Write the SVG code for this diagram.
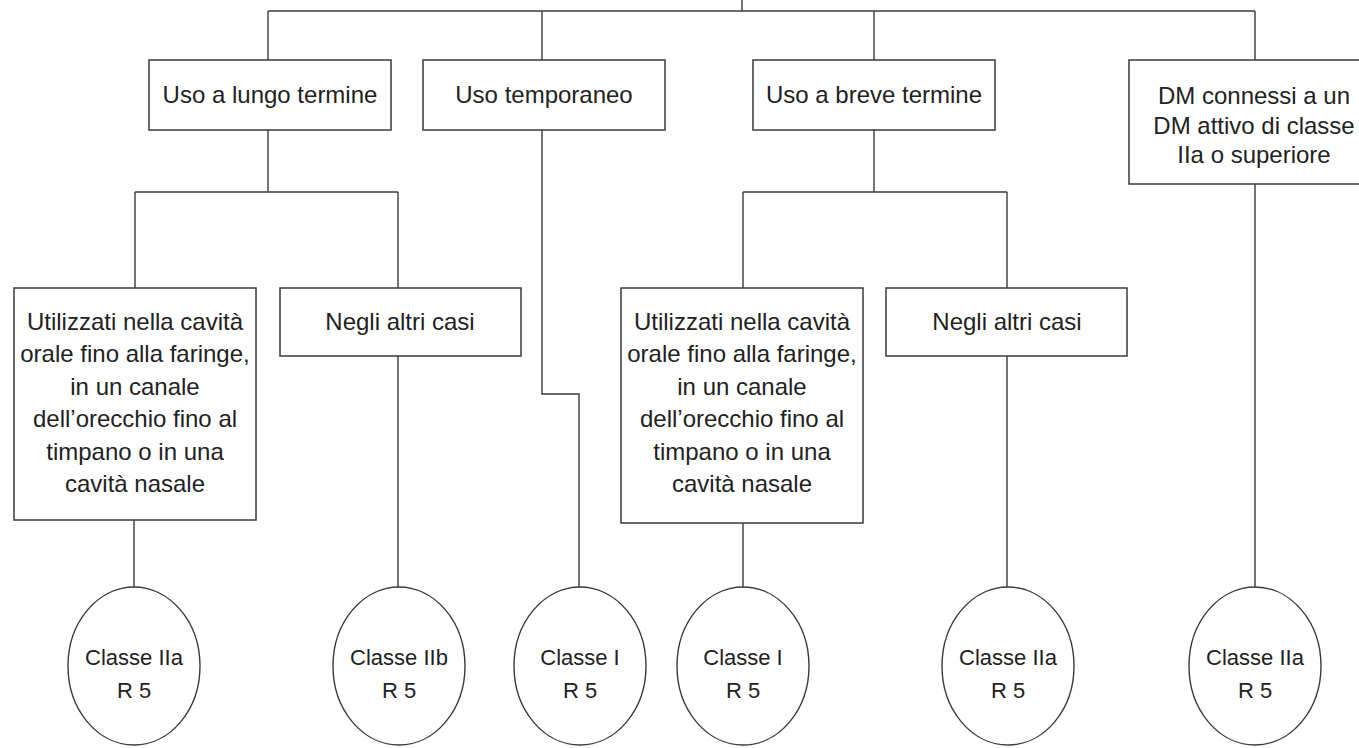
<svg xmlns="http://www.w3.org/2000/svg" width="1359" height="748" viewBox="0 0 1359 748">
  <style>
    .box { fill: #ffffff; stroke: #3a3a3a; stroke-width: 1.5; }
    .oval { fill: #ffffff; stroke: #3a3a3a; stroke-width: 1.4; }
    .wire { fill: none; stroke: #3a3a3a; stroke-width: 1.4; }
    .lbl { font-family: "Liberation Sans", Arial, sans-serif; font-size: 24px; fill: #222222; text-anchor: middle; }
    .cls { font-family: "Liberation Sans", Arial, sans-serif; font-size: 22px; fill: #222222; text-anchor: middle; }
  </style>
  <rect x="0" y="0" width="1359" height="748" fill="#ffffff"/>

  <!-- connectors -->
  <g id="connectors" class="wire">
    <path d="M742 0 V11"/>
    <path d="M268 11 H1255"/>
    <path d="M268 11 V60"/>
    <path d="M542 11 V60"/>
    <path d="M874 11 V60"/>
    <path d="M1255 11 V60"/>
    <!-- long-term branch -->
    <path d="M268 130 V192"/>
    <path d="M135 192 H398"/>
    <path d="M135 192 V288"/>
    <path d="M398 192 V288"/>
    <path d="M134 520 V587"/>
    <path d="M398 356 V587"/>
    <!-- temporary use -->
    <path d="M542 130 V394 H579 V587"/>
    <!-- short-term branch -->
    <path d="M874 130 V192"/>
    <path d="M743 192 H1007"/>
    <path d="M743 192 V288"/>
    <path d="M1007 192 V288"/>
    <path d="M743 523 V587"/>
    <path d="M1007 356 V587"/>
    <!-- connected to active device -->
    <path d="M1255 184 V587"/>
  </g>

  <!-- first level -->
  <g id="uso-lungo">
    <rect class="box" x="149" y="60" width="242" height="70"/>
    <text class="lbl" x="270" y="103">Uso a lungo termine</text>
  </g>
  <g id="uso-temporaneo">
    <rect class="box" x="423" y="60" width="242" height="70"/>
    <text class="lbl" x="544" y="103">Uso temporaneo</text>
  </g>
  <g id="uso-breve">
    <rect class="box" x="753" y="60" width="242" height="70"/>
    <text class="lbl" x="874" y="103">Uso a breve termine</text>
  </g>
  <g id="dm-connessi">
    <rect class="box" x="1129" y="60" width="252" height="124"/>
    <text class="lbl" x="1254" y="104">DM connessi a un</text>
    <text class="lbl" x="1254" y="134">DM attivo di classe</text>
    <text class="lbl" x="1254" y="163">IIa o superiore</text>
  </g>

  <!-- second level -->
  <g id="cavita-lungo">
    <rect class="box" x="14" y="288" width="242" height="232"/>
    <text class="lbl" x="135" y="330">Utilizzati nella cavità</text>
    <text class="lbl" x="135" y="362">orale fino alla faringe,</text>
    <text class="lbl" x="135" y="395">in un canale</text>
    <text class="lbl" x="135" y="427">dell’orecchio fino al</text>
    <text class="lbl" x="135" y="460">timpano o in una</text>
    <text class="lbl" x="135" y="492">cavità nasale</text>
  </g>
  <g id="altri-lungo">
    <rect class="box" x="280" y="288" width="241" height="68"/>
    <text class="lbl" x="400" y="330">Negli altri casi</text>
  </g>
  <g id="cavita-breve">
    <rect class="box" x="621" y="288" width="242" height="235"/>
    <text class="lbl" x="742" y="330">Utilizzati nella cavità</text>
    <text class="lbl" x="742" y="362">orale fino alla faringe,</text>
    <text class="lbl" x="742" y="395">in un canale</text>
    <text class="lbl" x="742" y="427">dell’orecchio fino al</text>
    <text class="lbl" x="742" y="460">timpano o in una</text>
    <text class="lbl" x="742" y="492">cavità nasale</text>
  </g>
  <g id="altri-breve">
    <rect class="box" x="886" y="288" width="241" height="68"/>
    <text class="lbl" x="1007" y="330">Negli altri casi</text>
  </g>

  <!-- classes -->
  <g id="classe-1">
    <ellipse class="oval" cx="134" cy="666" rx="66" ry="79"/>
    <text class="cls" x="134" y="665">Classe IIa</text>
    <text class="cls" x="134" y="698">R 5</text>
  </g>
  <g id="classe-2">
    <ellipse class="oval" cx="399" cy="666" rx="66" ry="79"/>
    <text class="cls" x="399" y="665">Classe IIb</text>
    <text class="cls" x="399" y="698">R 5</text>
  </g>
  <g id="classe-3">
    <ellipse class="oval" cx="580" cy="666" rx="66" ry="79"/>
    <text class="cls" x="580" y="665">Classe I</text>
    <text class="cls" x="580" y="698">R 5</text>
  </g>
  <g id="classe-4">
    <ellipse class="oval" cx="743" cy="666" rx="66" ry="79"/>
    <text class="cls" x="743" y="665">Classe I</text>
    <text class="cls" x="743" y="698">R 5</text>
  </g>
  <g id="classe-5">
    <ellipse class="oval" cx="1008" cy="666" rx="66" ry="79"/>
    <text class="cls" x="1008" y="665">Classe IIa</text>
    <text class="cls" x="1008" y="698">R 5</text>
  </g>
  <g id="classe-6">
    <ellipse class="oval" cx="1255" cy="666" rx="66" ry="79"/>
    <text class="cls" x="1255" y="665">Classe IIa</text>
    <text class="cls" x="1255" y="698">R 5</text>
  </g>
</svg>
